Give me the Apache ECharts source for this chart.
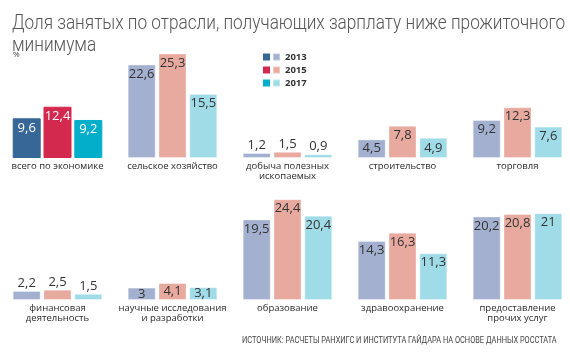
<!DOCTYPE html>
<html>
<head>
<meta charset="utf-8">
<script src="https://cdn.jsdelivr.net/npm/echarts@6/dist/echarts.min.js"></script>
<style>
  html, body { margin: 0; padding: 0; background: #fff; }
  #chart { width: 570px; height: 353px; }
</style>
</head>
<body>
<div id="chart"></div>
<script>
// данные
const years = ['2013', '2015', '2017'];
const topRow = ['всего по экономике', 'сельское хозяйство', 'добыча полезных\nископаемых', 'строительство', 'торговля'];
const bottomRow = ['финансовая\nдеятельность', 'научные исследования\nи разработки', 'образование', 'здравоохранение', 'предоставление\nпрочих услуг'];
const top2013 = [9.6, 22.6, 1.2, 4.5, 9.2];
const top2015 = [12.4, 25.3, 1.5, 7.8, 12.3];
const top2017 = [9.2, 15.5, 0.9, 4.9, 7.6];
const bot2013 = [2.2, 3, 19.5, 14.3, 20.2];
const bot2015 = [2.5, 4.1, 24.4, 16.3, 20.8];
const bot2017 = [1.5, 3.1, 20.4, 11.3, 21];

const lightColors = ['#a3b0cf', '#e8a99f', '#a0dbe8'];
const darkColors = ['#366796', '#d4294f', '#03aecb'];
const FONT = 'Open Sans';

const chart = echarts.init(document.getElementById('chart'));

function fmt(v) { return String(v).replace('.', ','); }

function makeData(vals, si, highlightFirst) {
    return vals.map((v, i) => {
        const item = { value: v, label: {} };
        if (v < 2.8) {
            item.label.position = 'top';
            item.label.distance = 1;
        } else if (v < 5) {
            item.label.position = 'inside';
        } else {
            item.label.position = 'insideTop';
            item.label.distance = 3;
        }
        if (highlightFirst && i === 0) {
            item.itemStyle = { color: darkColors[si], borderColor: darkColors[si] };
            item.label.color = '#fff';
        }
        return item;
    });
}

const rows = [
    { cats: topRow, vals: [top2013, top2015, top2017], top: 34, hl: true },
    { cats: bottomRow, vals: [bot2013, bot2015, bot2017], top: 176, hl: false }
];

const grids = [], xAxes = [], yAxes = [], series = [];
rows.forEach((r, gi) => {
    grids.push({ left: 0, width: 575, top: r.top, height: 124, outerBoundsMode: 'none', containLabel: false });
    xAxes.push({
        type: 'category', gridIndex: gi, data: r.cats,
        axisLine: { show: false }, axisTick: { show: false },
        axisLabel: { interval: 0, margin: 3, fontSize: 9.5, lineHeight: 10, color: '#2a2a2a', fontFamily: FONT, verticalAlign: 'top' }
    });
    yAxes.push({ type: 'value', gridIndex: gi, min: 0, max: 30, show: false });
    r.vals.forEach((vals, si) => {
        series.push({
            name: years[si], type: 'bar', xAxisIndex: gi, yAxisIndex: gi,
            barWidth: 28, barGap: '10%',
            itemStyle: { color: lightColors[si], borderColor: 'rgba(255,255,255,0.35)', borderWidth: 1 },
            label: {
                show: true, fontSize: 13, color: '#333', fontFamily: FONT,
                formatter: p => fmt(p.value)
            },
            data: makeData(vals, si, r.hl),
            silent: true, animation: false
        });
    });
});

const legendTop = 52;
const legendStep = 13;

chart.setOption({
    animation: false,
    textStyle: { fontFamily: FONT },
    legend: {
        data: years, orient: 'vertical', left: 272, top: legendTop, padding: 0,
        icon: 'rect', itemWidth: 7, itemHeight: 7, itemGap: 3,
        selectedMode: false,
        textStyle: { fontSize: 9.5, fontWeight: 'bold', color: '#333', lineHeight: 10, fontFamily: FONT }
    },
    graphic: [
        // заголовок (сжат по ширине, как в оригинале)
        { type: 'text', x: 12, y: 13, scaleX: 0.86,
          style: { text: 'Доля занятых по отрасли, получающих зарплату ниже прожиточного\nминимума',
                   fontSize: 20, fontWeight: 300, fill: '#555', fontFamily: 'Roboto', lineHeight: 22 } },
        { type: 'text', left: 13, top: 51, style: { text: '%', fontSize: 8, fill: '#444', fontFamily: FONT } },
        ...darkColors.map((c, i) => ({
            type: 'rect', left: 263, top: legendTop + 1.5 + i * legendStep,
            shape: { width: 7, height: 7 }, style: { fill: c }
        })),
        { type: 'text', x: 242, y: 336, scaleX: 0.78,
          style: { text: 'ИСТОЧНИК: РАСЧЕТЫ РАНХИГС И ИНСТИТУТА ГАЙДАРА НА ОСНОВЕ ДАННЫХ РОССТАТА',
                   fontSize: 9.5, fill: '#444', fontFamily: 'Roboto' } }
    ],
    grid: grids,
    xAxis: xAxes,
    yAxis: yAxes,
    series: series
});
</script>
</body>
</html>
